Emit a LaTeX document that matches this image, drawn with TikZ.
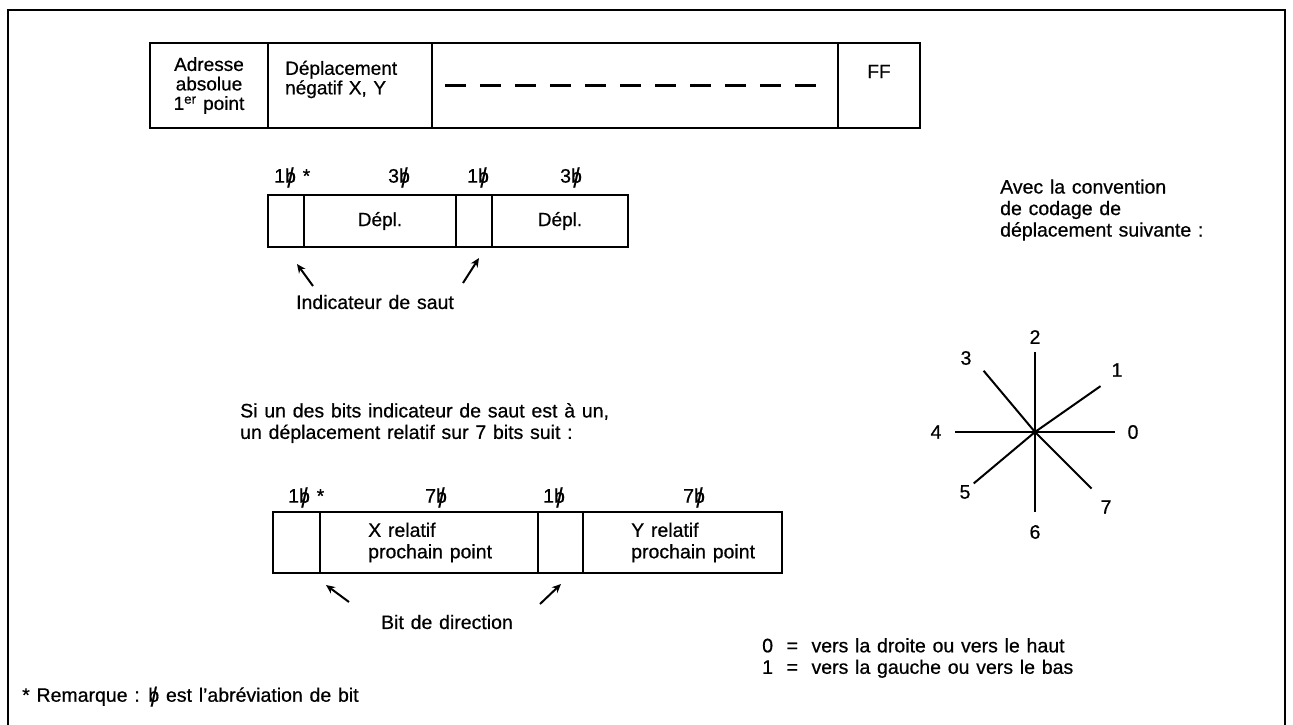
\documentclass[tikz,border=0pt]{standalone}
\usepackage{fontspec}
\setmainfont{Liberation Sans}[WordSpace=1.25, FakeBold=0.6, BoldFont=Liberation Sans, AutoFakeBold=0.6]
\usepackage{tikz}
\usetikzlibrary{positioning,arrows.meta,calc}
\newcommand{\txtfont}{\fontsize{19.5}{21.5}\selectfont\bfseries}
\newcommand{\boxfont}{\fontsize{19}{19.5}\selectfont\bfseries}
% b barre : abreviation de bit
\newcommand{\bbit}{\ooalign{b\cr\hidewidth\raisebox{-.45ex}{\scalebox{1.15}[1.4]{/}}\hidewidth\cr}}
\tikzset{
  frame/.style={line width=1.6pt},
  cell/.style={draw, line width=1.8pt, inner sep=0pt, outer sep=0pt,
               align=center, font=\boxfont},
  txt/.style={inner sep=0pt, align=left, font=\txtfont},
  bitlbl/.style={inner sep=0pt, anchor=west, font=\txtfont},
  dashline/.style={line width=2.4pt, dash pattern=on 21pt off 14pt},
  ptr/.style={-{Stealth[length=9pt,width=8pt]}, line width=2pt},
  ray/.style={line width=2pt},
}
\begin{document}
\begin{tikzpicture}[x=1pt, y=-1pt]
  \useasboundingbox (0,0) rectangle (1293,724);
  \draw[frame] (8,740) -- (8,10) -- (1285,10) -- (1285,740);

  % Enregistrement
  \node[cell, minimum width=118, minimum height=85, anchor=north west] (adr) at (150,43)
       {Adresse\\absolue\\1\textsuperscript{er} point};
  \node[cell, minimum width=164, minimum height=85, right=0pt of adr] (dep) {};
  \node[cell, minimum width=406, minimum height=85, right=0pt of dep] (suite) {};
  \node[cell, minimum width=82, minimum height=85, right=0pt of suite] (fin) {};
  \node[txt, font=\boxfont, anchor=west] (deptxt) at ($(dep.west)+(17,-6)$) {Déplacement\\négatif X, Y};
  \node[txt, font=\boxfont] (ff) at ($(fin.center)+(0,-14)$) {FF};
  \draw[dashline] ($(suite.west)+(13,0)$) -- ($(suite.east)+(-18,0)$);

  % Octet de deplacement
  \node[cell, minimum width=36, minimum height=52, anchor=north west] (s1) at (268,195) {};
  \node[cell, minimum width=152, minimum height=52, right=0pt of s1] (d1) {Dépl.};
  \node[cell, minimum width=36, minimum height=52, right=0pt of d1] (s2) {};
  \node[cell, minimum width=136, minimum height=52, right=0pt of s2] (d2) {Dépl.};
  \node[bitlbl] (ls1) at (274,178) {1\bbit\ *};
  \node[bitlbl] (ld1) at (388,178) {3\bbit};
  \node[bitlbl] (ls2) at (467,178) {1\bbit};
  \node[bitlbl] (ld2) at (560,178) {3\bbit};
  \coordinate (p1) at (313,286);
  \coordinate (p2) at (463,283);
  \draw[ptr] (p1) -- (297,264);
  \draw[ptr] (p2) -- (479,258);
  \node[txt] (saut) at (375,302) {Indicateur de saut};

  % Convention
  \node[txt, anchor=west] (conv) at (1000,210)
       {Avec la convention\\de codage de\\déplacement suivante :};
  \coordinate (ctr) at (1035,432);
  \foreach \a/\r in {0/80, -35/80, -90/80, -130/80, -180/80, -220/80, -270/80, -315/80}
    \draw[ray] (ctr) -- ++(\a:\r);
  \node[txt] (c0) at (1133,432) {0};
  \node[txt] (c1) at (1117,370) {1};
  \node[txt] (c2) at (1035,337) {2};
  \node[txt] (c3) at (966,358) {3};
  \node[txt] (c4) at (936,432) {4};
  \node[txt] (c5) at (965,492) {5};
  \node[txt] (c6) at (1035,532) {6};
  \node[txt] (c7) at (1106,507) {7};

  % Deplacement relatif
  \node[txt, anchor=west] (si) at (240,423)
       {Si un des bits indicateur de saut est à un,\\un déplacement relatif sur 7 bits suit :};
  \node[cell, minimum width=47, minimum height=61, anchor=north west] (r1) at (273,512) {};
  \node[cell, minimum width=218, minimum height=61, right=0pt of r1] (xrel) {};
  \node[cell, minimum width=45, minimum height=61, right=0pt of xrel] (r2) {};
  \node[cell, minimum width=199, minimum height=61, right=0pt of r2] (yrel) {};
  \node[txt, anchor=west] (xtxt) at ($(xrel.west)+(48,0)$) {X relatif\\prochain point};
  \node[txt, anchor=west] (ytxt) at ($(yrel.west)+(48,0)$) {Y relatif\\prochain point};
  \node[bitlbl] (lr1) at (288,498) {1\bbit\ *};
  \node[bitlbl] (lx) at (425,498) {7\bbit};
  \node[bitlbl] (lr2) at (543,498) {1\bbit};
  \node[bitlbl] (ly) at (683,498) {7\bbit};
  \coordinate (q1) at (349,602);
  \coordinate (q2) at (540,604);
  \draw[ptr] (q1) -- (326,585);
  \draw[ptr] (q2) -- (561,584);
  \node[txt] (dir) at (447,622) {Bit de direction};

  \node[txt, anchor=west] (code) at (762,658)
       {0\ \ =\ \ vers la droite ou vers le haut\\1\ \ =\ \ vers la gauche ou vers le bas};

  \node[txt, anchor=west] (rem) at (22,697) {*\ Remarque : \bbit\ est l'abréviation de bit};
\end{tikzpicture}
\end{document}
